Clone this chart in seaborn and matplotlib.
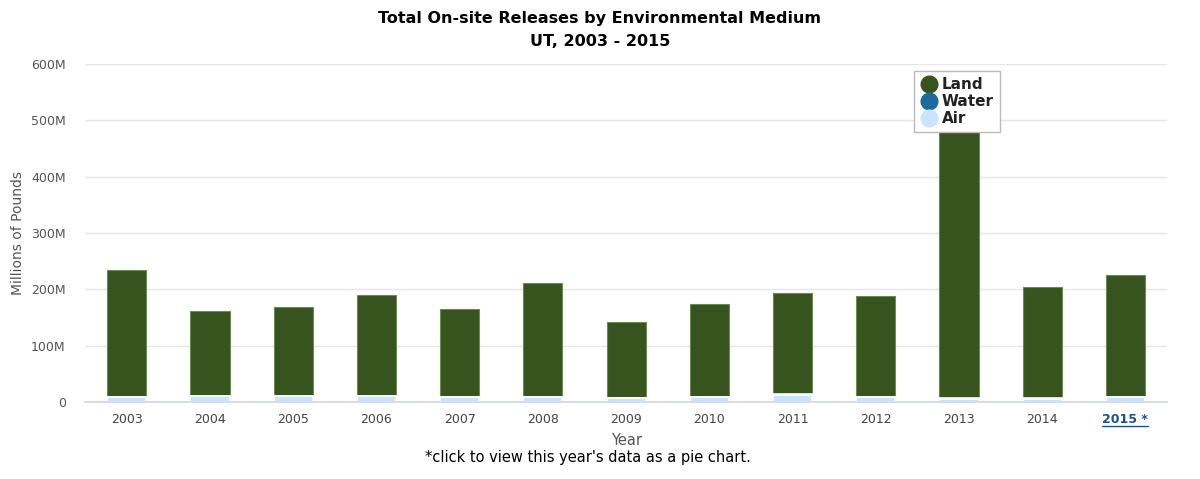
import numpy as np
import pandas as pd
import matplotlib
matplotlib.use("Agg")
import matplotlib.pyplot as plt
from matplotlib.lines import Line2D
import seaborn as sns

# values in millions of pounds
years = ["2003", "2004", "2005", "2006", "2007", "2008", "2009",
         "2010", "2011", "2012", "2013", "2014", "2015 *"]
totals = [234, 162, 168, 190, 164.5, 210.5, 141.5, 173.5, 194, 187.5, 510, 204.5, 225.5]
air = [8, 10, 10, 10, 9, 9, 7, 9, 13, 8, 6, 6, 8]
water = [0.5, 0.5, 0.5, 0.5, 0.5, 0.5, 0.4, 0.4, 0.4, 0.4, 0.4, 0.4, 0.4]
land = [t - a - w for t, a, w in zip(totals, air, water)]

land_color = "#38541e"
water_color = "#1d6a9c"
air_color = "#cce4fb"

df = pd.DataFrame({"year": years, "land": land, "water": water, "air": air})
df["top_land"] = df["land"] + df["water"] + df["air"]
df["top_water"] = df["water"] + df["air"]

sns.set_theme(style="white")
plt.rcParams["font.family"] = ["DejaVu Sans"]

fig, ax = plt.subplots(figsize=(12, 4.79), dpi=100)
fig.subplots_adjust(left=0.071, right=0.9725, bottom=0.1608, top=0.866)

# layered stack: land on top, water in the middle, air at the bottom
sns.barplot(data=df, x="year", y="top_land", color=land_color, width=0.47,
            edgecolor="#6d8a52", linewidth=0.8, saturation=1, ax=ax)
sns.barplot(data=df, x="year", y="top_water", color=water_color, width=0.47,
            edgecolor="white", linewidth=1.2, saturation=1, ax=ax)
sns.barplot(data=df, x="year", y="air", color=air_color, width=0.47,
            edgecolor="white", linewidth=1.2, saturation=1, ax=ax)

ax.set_ylim(0, 600)
ax.set_xlim(-0.5, len(years) - 0.5)
ax.set_yticks(np.arange(0, 601, 100))
ax.set_yticklabels(["0"] + [f"{v}M" for v in range(100, 601, 100)])
ax.yaxis.grid(True, color="#e6e6e6", linewidth=1)
ax.set_axisbelow(True)
for s in ["top", "right", "left"]:
    ax.spines[s].set_visible(False)
ax.spines["bottom"].set_color("#ccd6eb")
ax.spines["bottom"].set_linewidth(1.2)

ax.tick_params(axis="y", length=0, labelsize=9, labelcolor="#555555", pad=14)
ax.tick_params(axis="x", which="major", length=0, labelsize=9,
               labelcolor="#444444", pad=8)
ax.set_xticks(np.arange(-0.5, len(years), 1), minor=True)
ax.tick_params(axis="x", which="minor", length=9, color="#ccd6eb", width=1.2)

last = ax.get_xticklabels()[-1]
last.set_color("#1f4e8c")
last.set_fontweight("bold")

ax.set_xlabel("Year", fontsize=10.5, color="#555555", labelpad=5)
ax.set_ylabel("Millions of Pounds", fontsize=10, color="#555555", labelpad=4)

fig.suptitle("Total On-site Releases by Environmental Medium\nUT, 2003 - 2015",
             fontsize=11.5, fontweight="bold", color="black", y=0.978,
             linespacing=1.7)
fig.text(0.49, 0.035, "*click to view this year's data as a pie chart.",
         ha="center", fontsize=10.5, color="black")

handles = [
    Line2D([], [], marker="o", linestyle="", markersize=12, color=land_color, label="Land"),
    Line2D([], [], marker="o", linestyle="", markersize=12, color=water_color, label="Water"),
    Line2D([], [], marker="o", linestyle="", markersize=12, color=air_color, label="Air"),
]
leg = fig.legend(handles=handles, loc="upper left", bbox_to_anchor=(0.755, 0.868),
                 frameon=True, fancybox=False, framealpha=1, handletextpad=0.25,
                 labelspacing=0.14, borderpad=0.4, handlelength=1.2,
                 prop={"weight": "bold", "size": 11})
leg.get_frame().set_edgecolor("#bbbbbb")
leg.get_frame().set_linewidth(1)
leg.set_zorder(10)
for t in leg.get_texts():
    t.set_color("#222222")

# underline the linked year label
fig.canvas.draw()
bb = last.get_window_extent().transformed(fig.transFigure.inverted())
fig.add_artist(Line2D([bb.x0, bb.x1], [bb.y0, bb.y0], transform=fig.transFigure,
                      color="#1f4e8c", linewidth=1))

fig.savefig("out.png", dpi=100)
